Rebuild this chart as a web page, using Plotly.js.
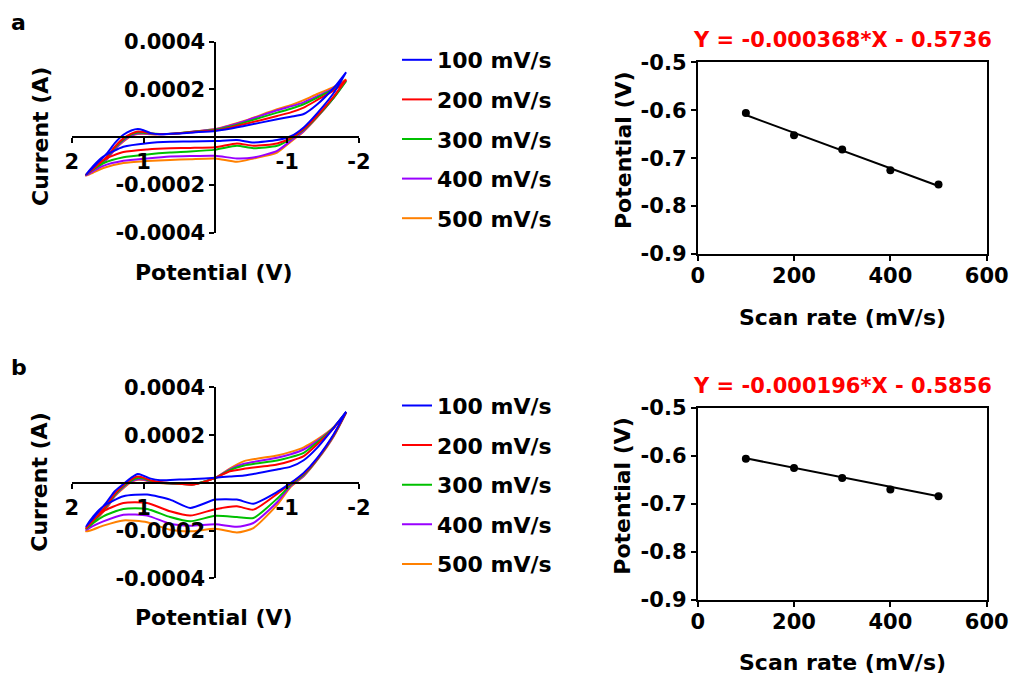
<!DOCTYPE html>
<html>
<head>
<meta charset="utf-8">
<script src="https://cdn.plot.ly/plotly-3.0.1.min.js"></script>
<style>html,body{margin:0;padding:0;background:#fff;}#chart{width:1011px;height:675px;}</style>
</head>
<body>
<div id="chart"></div>
<script>
// ---------- data ----------
const rateNames = ['100 mV/s', '200 mV/s', '300 mV/s', '400 mV/s', '500 mV/s'];
const rateColors = ['#0000FF', '#FF0000', '#00C000', '#9900FF', '#FF8000'];

// potential grid (V): forward (upper) branch, then return (lower) branch
const potUp = [1.8, 1.65, 1.5, 1.4, 1.28, 1.17, 1.08, 1.0, 0.9, 0.77, 0.5, 0.3, 0.0, -0.2, -0.4, -0.86, -1.05, -1.23, -1.42, -1.65, -1.82];
const potDown = [-1.82, -1.65, -1.42, -1.23, -1.05, -0.86, -0.53, -0.3, 0.0, 0.35, 0.63, 0.95, 1.28, 1.56, 1.7, 1.8];

// panel a currents (µA)
const aUp100 = [-157,-110,-65,-25,10,28,34,29,17,12,16,20,26,35,47,75,86,97,138,207,272];
const aUp200 = [-157,-120,-78,-40,-5,15,24,22,16,13,17,22,29,40,54,89,104,124,156,196,241];
const aUp300 = [-157,-122,-82,-45,-10,12,20,19,15,13,17,23,31,44,61,103,119,138,166,201,235];
const aUp400 = [-160,-126,-88,-50,-15,7,15,15,13,12,17,24,33,48,66,113,129,146,172,206,237];
const aUp500 = [-162,-128,-90,-52,-18,5,13,14,12,12,17,24,34,50,68,117,134,155,181,211,242];
const aDown100 = [272,186,101,41,4,-12,-22,-12,-16,-18,-19,-25,-40,-81,-120,-157];
const aDown200 = [241,171,91,34,-4,-26,-36,-26,-42,-45,-46,-51,-62,-95,-128,-157];
const aDown300 = [235,166,88,31,-7,-36,-46,-36,-52,-60,-64,-72,-84,-109,-135,-157];
const aDown400 = [237,166,86,26,-15,-57,-85,-89,-78,-79,-81,-89,-99,-120,-142,-160];
const aDown500 = [242,168,84,24,-19,-64,-89,-103,-89,-92,-95,-100,-108,-129,-148,-162];

// panel b currents (µA)
const bUp100 = [-183,-130,-75,-35,-5,22,37,30,18,11,14,16,22,27,31,56,68,95,148,232,298];
const bUp200 = [-189,-140,-88,-45,-10,15,27,22,10,4,-4,-7,21,49,59,77,92,112,162,230,296];
const bUp300 = [-192,-145,-92,-50,-14,10,21,18,8,2,-4,-6,21,53,73,94,108,126,170,232,296];
const bUp400 = [-197,-148,-96,-53,-18,6,15,14,6,1,-4,-6,21,57,80,105,120,140,176,233,295];
const bUp500 = [-203,-152,-100,-56,-22,3,13,12,5,0,-4,-6,21,60,91,115,130,149,182,234,294];
const bDown100 = [298,205,105,42,0,-38,-87,-70,-70,-105,-70,-49,-56,-98,-140,-183];
const bDown200 = [296,202,102,38,-3,-46,-112,-98,-110,-137,-119,-84,-84,-119,-155,-189];
const bDown300 = [296,200,100,34,-8,-66,-147,-143,-138,-161,-143,-109,-109,-140,-168,-192];
const bDown400 = [295,198,98,30,-12,-81,-168,-184,-173,-179,-171,-137,-133,-161,-180,-197];
const bDown500 = [294,196,96,28,-16,-92,-189,-208,-192,-203,-196,-165,-157,-179,-195,-203];

// scan rate vs potential
const scanRate = [100, 200, 300, 400, 500];
const peakPotA = [-0.606, -0.652, -0.682, -0.725, -0.755];
const peakPotB = [-0.606, -0.625, -0.646, -0.670, -0.684];
const fitRate = [100, 500];
const fitPotA = [-0.610, -0.758];
const fitPotB = [-0.605, -0.684];
const eqA = 'Y = -0.000368*X - 0.5736';
const eqB = 'Y = -0.000196*X - 0.5856';

const cvXTickVals = [2, 1, -1, -2];
const cvXTickText = ['2', '1', '-1', '-2'];
const cvYTickVals = [0.0004, 0.0002, -0.0002, -0.0004];
const cvYTickText = ['0.0004', '0.0002', '-0.0002', '-0.0004'];
const srXTickVals = [0, 200, 400, 600];
const srXTickText = ['0', '200', '400', '600'];
const srYTickVals = [-0.5, -0.6, -0.7, -0.8, -0.9];
const srYTickText = ['-0.5', '-0.6', '-0.7', '-0.8', '-0.9'];

// ---------- helpers ----------
const W = 1011, H = 675;
const fx = px => px / W;
const fy = py => 1 - py / H;
const uA = 1e-6;
const FONT = 'DejaVu Sans';
const baseFont = (size, color) => ({family: FONT, size: size, color: color || '#000', weight: 'bold'});

const aUps = [aUp100, aUp200, aUp300, aUp400, aUp500];
const aDowns = [aDown100, aDown200, aDown300, aDown400, aDown500];
const bUps = [bUp100, bUp200, bUp300, bUp400, bUp500];
const bDowns = [bDown100, bDown200, bDown300, bDown400, bDown500];

const traces = [];
function addCV(ups, downs, xa, ya, leg, pref) {
  for (let i = 4; i >= 0; i--) {
    traces.push({
      type: 'scatter', mode: 'lines',
      x: potUp.concat(potDown),
      y: ups[i].concat(downs[i]).map(v => v * uA),
      line: {color: rateColors[i], width: 2, shape: 'spline', smoothing: 0.6},
      name: rateNames[i], xaxis: xa, yaxis: ya,
      legend: leg, legendgroup: pref + i, legendrank: i + 1,
      hoverinfo: 'skip'
    });
  }
}
addCV(aUps, aDowns, 'x', 'y', 'legend', 'a');
addCV(bUps, bDowns, 'x2', 'y2', 'legend2', 'b');

function addSR(pots, fit, xa, ya) {
  traces.push({type: 'scatter', mode: 'lines', x: fitRate, y: fit, line: {color: '#000', width: 2},
    xaxis: xa, yaxis: ya, showlegend: false, hoverinfo: 'skip'});
  traces.push({type: 'scatter', mode: 'markers', x: scanRate, y: pots, marker: {color: '#000', size: 8},
    xaxis: xa, yaxis: ya, showlegend: false, hoverinfo: 'skip'});
}
addSR(peakPotA, fitPotA, 'x3', 'y3');
addSR(peakPotB, fitPotB, 'x4', 'y4');

const dy = 345.7; // vertical offset of panel b

function cvAxes(top) {
  const yTop = top, yBot = top + 191;
  const xL = 71.7, xR = 359;
  const xa = {
    domain: [fx(xL), fx(xR)], range: [2, -2], anchor: 'free', position: fy((yTop + yBot) / 2),
    showline: true, linecolor: '#000', linewidth: 2, ticks: 'outside', ticklen: 5, tickwidth: 2, tickcolor: '#000',
    tickvals: cvXTickVals, ticktext: cvXTickText, tickfont: baseFont(21), ticklabelstandoff: 1,
    showgrid: false, zeroline: false, fixedrange: true
  };
  const ya = {
    domain: [fy(yBot), fy(yTop)], range: [-0.0004, 0.0004], anchor: 'free', position: fx((xL + xR) / 2),
    showline: true, linecolor: '#000', linewidth: 2, ticks: 'outside', ticklen: 5, tickwidth: 2, tickcolor: '#000',
    tickvals: cvYTickVals, ticktext: cvYTickText, tickfont: baseFont(21),
    showgrid: false, zeroline: false, fixedrange: true
  };
  return [xa, ya];
}
function srAxes(top) {
  const xa = {
    domain: [fx(697.7), fx(986.7)], range: [0, 600],
    showline: true, mirror: true, linecolor: '#000', linewidth: 2, ticks: 'outside', ticklen: 5, tickwidth: 2, tickcolor: '#000',
    tickvals: srXTickVals, ticktext: srXTickText, tickfont: baseFont(21), ticklabelstandoff: -3,
    showgrid: false, zeroline: false, fixedrange: true
  };
  const ya = {
    domain: [fy(top + 191.7), fy(top)], range: [-0.9, -0.5],
    showline: true, mirror: true, linecolor: '#000', linewidth: 2, ticks: 'outside', ticklen: 5, tickwidth: 2, tickcolor: '#000',
    tickvals: srYTickVals, ticktext: srYTickText, tickfont: baseFont(21),
    showgrid: false, zeroline: false, fixedrange: true
  };
  return [xa, ya];
}
const [xA, yA] = cvAxes(41.7);
const [xB, yB] = cvAxes(41.7 + dy);
const [xC, yC] = srAxes(62.3);
const [xD, yD] = srAxes(62.3 + dy);
xC.anchor = 'y3'; yC.anchor = 'x3';
xD.anchor = 'y4'; yD.anchor = 'x4';

function ann(text, px, py, size, opts) {
  return Object.assign({text: text, x: fx(px), y: fy(py), xref: 'paper', yref: 'paper',
    showarrow: false, xanchor: 'center', yanchor: 'middle', font: baseFont(size)}, opts || {});
}
const annotations = [];
[0, dy].forEach((o, k) => {
  annotations.push(ann(k === 0 ? 'a' : 'b', 9, 22 + o, 22, {xanchor: 'left'}));
  annotations.push(ann('Current (A)', 40, 137 + o, 22, {textangle: -90}));
  annotations.push(ann('Potential (V)', 214, 272 + o, 22));
  annotations.push(ann(k === 0 ? eqA : eqB, 842, 40 + o, 21, {font: baseFont(21, '#FF0000')}));
  annotations.push(ann('Scan rate (mV/s)', 842.5, 317 + o, 22));
  annotations.push(ann('Potential (V)', 623, 150 + o, 22, {textangle: -90}));
});

const legendBase = {
  xanchor: 'left', yanchor: 'top', x: fx(397), font: baseFont(22),
  bgcolor: 'rgba(0,0,0,0)', borderwidth: 0, traceorder: 'grouped', tracegroupgap: 8
};

const layout = {
  width: W, height: H, margin: {l: 0, r: 0, t: 0, b: 0},
  paper_bgcolor: '#fff', plot_bgcolor: 'rgba(0,0,0,0)',
  font: baseFont(21), showlegend: true,
  xaxis: xA, yaxis: yA, xaxis2: xB, yaxis2: yB, xaxis3: xC, yaxis3: yC, xaxis4: xD, yaxis4: yD,
  legend: Object.assign({}, legendBase, {y: fy(39)}),
  legend2: Object.assign({}, legendBase, {y: fy(39 + dy)}),
  annotations: annotations
};

Plotly.newPlot('chart', traces, layout, {displayModeBar: false, staticPlot: true});
</script>
</body>
</html>
